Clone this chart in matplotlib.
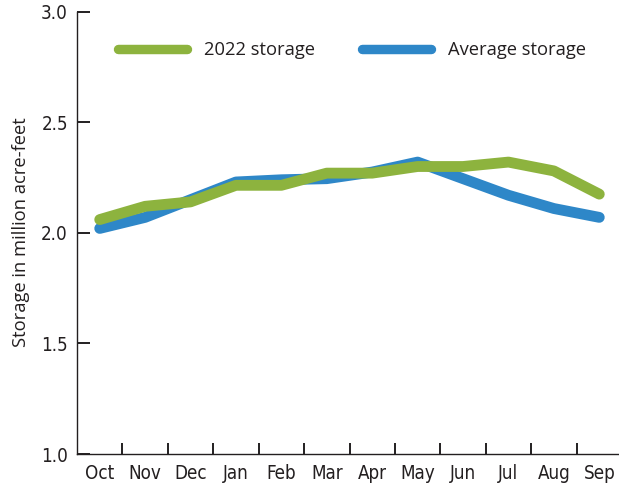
import matplotlib
matplotlib.use("Agg")
import matplotlib.pyplot as plt
import numpy as np

# monthly reservoir storage, million acre-feet
months = ["Oct", "Nov", "Dec", "Jan", "Feb", "Mar", "Apr", "May", "Jun", "Jul", "Aug", "Sep"]
storage_2022 = [2.06, 2.12, 2.14, 2.215, 2.215, 2.27, 2.27, 2.30, 2.30, 2.32, 2.28, 2.175]
storage_avg = [2.02, 2.07, 2.15, 2.23, 2.24, 2.245, 2.275, 2.32, 2.245, 2.17, 2.11, 2.07]
y_ticks = [1.0, 1.5, 2.0, 2.5, 3.0]

green = "#8db33e"
blue = "#2e87c8"
ink = "#231f20"

narrow = ["DejaVu Sans"]
regular = ["Open Sans", "DejaVu Sans"]

fig = plt.figure(figsize=(6.19, 4.87), dpi=100)
W, H = 619, 487
ax = fig.add_axes([77 / W, 1 - 454 / H, (622 - 77) / W, (454 - 11.7) / H])

x = np.arange(len(months))
ax.plot(x, storage_avg, color=blue, lw=7.8, solid_capstyle="round",
        solid_joinstyle="round", label="Average storage", zorder=2)
ax.plot(x, storage_2022, color=green, lw=7.8, solid_capstyle="round",
        solid_joinstyle="round", label="2022 storage", zorder=3)

ax.set_xlim(-0.5, len(months) - 0.5)
ax.set_ylim(1.0, 3.0)

for side in ["top", "right"]:
    ax.spines[side].set_visible(False)
for side in ["left", "bottom"]:
    ax.spines[side].set_color(ink)
    ax.spines[side].set_linewidth(1.0)

ax.set_yticks(y_ticks)
ax.set_yticklabels([f"{v:.1f}" for v in y_ticks], family=narrow, stretch="condensed",
                   fontsize=13.5, color=ink)
ax.tick_params(axis="y", direction="in", length=9, width=1.4, color=ink, pad=6.5)

# month names centred, tick marks on the month boundaries
ax.set_xticks(x)
ax.set_xticklabels(months, family=narrow, stretch="condensed", fontsize=13.5, color=ink)
ax.tick_params(axis="x", which="major", length=0, pad=7)
ax.set_xticks(np.arange(0.5, len(months) - 0.5, 1), minor=True)
ax.tick_params(axis="x", which="minor", direction="in", length=8, width=1.4, color=ink)

ax.set_ylabel("Storage in million acre-feet", family=regular, fontsize=13.2, color=ink)
ax.yaxis.set_label_coords(-47 / (622 - 77), 0.5 + (234 - 232.8) / 442)

handles, labels = ax.get_legend_handles_labels()
leg = fig.legend(handles[::-1], labels[::-1], loc="center left",
                 bbox_to_anchor=(118 / W, 1 - 50 / H), ncol=2, frameon=False,
                 borderpad=0, borderaxespad=0, handlelength=3.75, handletextpad=0.95,
                 columnspacing=2.55, prop={"family": regular, "size": 13.2})
for line in leg.get_lines():
    line.set_linewidth(6.8)
for t in leg.get_texts():
    t.set_color(ink)

fig.savefig("out.png", dpi=100)
